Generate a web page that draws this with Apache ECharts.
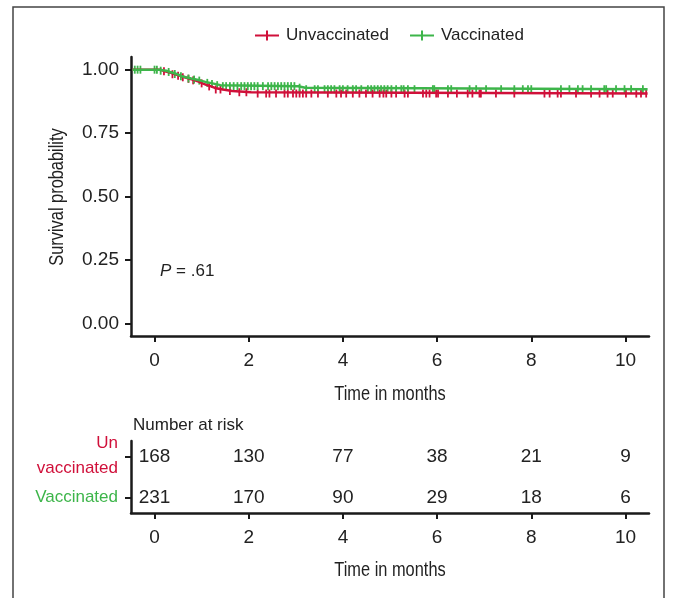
<!DOCTYPE html>
<html>
<head>
<meta charset="utf-8">
<script src="https://cdn.jsdelivr.net/npm/echarts@6/dist/echarts.min.js"></script>
<style>
html,body{margin:0;padding:0;background:#fff;}
#main{width:673px;height:598px;}
</style>
</head>
<body>
<div id="main"></div>
<script>
var xTicks = [0, 2, 4, 6, 8, 10];
var yTicks = [0, 0.25, 0.5, 0.75, 1];

// KM steps: event time and survival after it
var unvacTimes = [0.12, 0.22, 0.35, 0.44, 0.55, 0.64, 0.75, 0.86, 0.95, 1.02, 1.10, 1.20, 1.28, 1.45, 1.65, 2.05];
var unvacSurv  = [0.994, 0.988, 0.982, 0.976, 0.970, 0.964, 0.958, 0.952, 0.946, 0.940, 0.934, 0.928, 0.922, 0.916, 0.911, 0.906];
var vacTimes = [0.10, 0.25, 0.33, 0.40, 0.47, 0.53, 0.58, 0.66, 0.78, 0.88, 0.98, 1.08, 1.18, 1.28, 1.40, 3.05, 3.20];
var vacSurv  = [0.996, 0.991, 0.987, 0.983, 0.978, 0.974, 0.970, 0.965, 0.961, 0.957, 0.952, 0.948, 0.944, 0.939, 0.935, 0.929, 0.923];

// censored times
var unvacCensor = [0.2, 0.38, 0.5, 0.6, 0.72, 0.82, 1.0, 1.16, 1.3, 1.4, 1.6, 1.8, 1.95, 2.19, 2.37, 2.44, 2.58, 2.76, 2.83, 2.94, 3.01, 3.08, 3.15, 3.22, 3.33, 3.47, 3.68, 3.86, 3.96, 4.07, 4.21, 4.35, 4.49, 4.63, 4.78, 4.86, 4.92, 5.03, 5.13, 5.31, 5.38, 5.7, 5.77, 5.84, 5.98, 6.02, 6.23, 6.42, 6.65, 6.75, 6.9, 6.93, 7.25, 7.64, 8.28, 8.39, 8.56, 8.63, 8.95, 9.27, 9.45, 9.62, 9.73, 10.01, 10.23, 10.33, 10.44];
var vacCensor = [-0.42, -0.36, -0.3, 0.0, 0.05, 0.13, 0.3, 0.43, 0.56, 0.72, 0.84, 0.95, 1.12, 1.22, 1.33, 1.45, 1.52, 1.6, 1.68, 1.76, 1.84, 1.91, 1.98, 2.05, 2.12, 2.19, 2.3, 2.41, 2.48, 2.55, 2.62, 2.69, 2.76, 2.83, 2.9, 2.97, 3.08, 3.22, 3.4, 3.47, 3.61, 3.68, 3.75, 3.82, 3.93, 4.0, 4.1, 4.21, 4.28, 4.39, 4.53, 4.6, 4.67, 4.74, 4.81, 4.88, 4.95, 5.03, 5.13, 5.24, 5.29, 5.38, 5.52, 5.91, 5.94, 6.23, 6.3, 6.69, 6.83, 7.04, 7.36, 7.64, 7.82, 7.93, 8.0, 8.63, 8.81, 8.99, 9.09, 9.27, 9.55, 9.59, 9.8, 9.98, 10.12, 10.37];

var curveStart = -0.47;
var curveEnd = 10.47;

var riskTimes = [0, 2, 4, 6, 8, 10];
var riskUnvac = [168, 130, 77, 38, 21, 9];
var riskVac = [231, 170, 90, 29, 18, 6];

var RED = '#d0103a';
var GREEN = '#3db54a';
var INK = '#222';
var SANS = "'Liberation Sans', Arial, sans-serif";

function stepCurve(times, surv){
	var pts = [[curveStart, 1]];
	for(var i = 0; i < times.length; i++){
		pts.push([times[i], surv[i]]);
	}
	pts.push([curveEnd, surv[surv.length - 1]]);
	return pts;
}
function survAt(times, surv, t){
	var s = 1;
	for(var i = 0; i < times.length; i++){
		if(times[i] <= t) s = surv[i];
	}
	return s;
}
function censorPoints(censor, times, surv){
	return censor.map(function(t){ return [t, survAt(times, surv, t)]; });
}
function riskRow(counts, row){
	return riskTimes.map(function(t, i){ return [t, row, counts[i]]; });
}
function $extend(a, b){
	var o = {};
	for(var k in a) o[k] = a[k];
	for(var k2 in b) o[k2] = b[k2];
	return o;
}

var axisLine = {show: true, onZero: false, lineStyle: {color: '#1a1a1a', width: 2.5}};
var axisTick = {show: true, inside: false, length: 6, lineStyle: {color: '#1a1a1a', width: 2}};
var numLabel = {fontSize: 19, color: INK, fontFamily: SANS};

function xAxis(grid){
	return {
		type: 'value', gridIndex: grid, min: -0.5, max: 10.5,
		axisLine: axisLine,
		axisTick: $extend(axisTick, {customValues: xTicks}),
		axisLabel: $extend(numLabel, {customValues: xTicks, margin: 15}),
		splitLine: {show: false}
	};
}
// condensed axis titles (no narrow font installed, so squeeze the text)
function axisTitle(text, x, y, rot){
	return {
		type: 'text', x: x, y: y, rotation: rot || 0, scaleX: 0.78,
		style: {text: text, fill: INK, fontSize: 21, fontFamily: SANS, align: 'center', verticalAlign: 'middle'}
	};
}
function riskLabel(p){ return p.data[2]; }

var legendIcon = 'path://M0,4 L24,4 L24,6 L0,6 Z M11,0 L13,0 L13,10 L11,10 Z';

var chart = echarts.init(document.getElementById('main'), null, {renderer: 'canvas'});
chart.setOption({
	animation: false,
	backgroundColor: '#fff',
	legend: {
		left: 250, top: 22, itemWidth: 24, itemHeight: 10, itemGap: 21,
		textStyle: {fontSize: 17, color: INK, fontFamily: SANS, padding: [0, 0, 0, 2]},
		data: [
			{name: 'Unvaccinated', icon: legendIcon},
			{name: 'Vaccinated', icon: legendIcon}
		]
	},
	grid: [
		{left: 131, right: 24, top: 57, height: 279},
		{left: 131, right: 24, top: 441, height: 72}
	],
	xAxis: [xAxis(0), xAxis(1)],
	yAxis: [
		{
			type: 'value', gridIndex: 0, min: -0.05, max: 1.05,
			axisLine: axisLine,
			axisTick: $extend(axisTick, {customValues: yTicks}),
			axisLabel: $extend(numLabel, {customValues: yTicks, margin: 12, formatter: function(v){ return v.toFixed(2); }}),
			splitLine: {show: false}
		},
		{
			type: 'value', gridIndex: 1, min: 0.63, max: 2.37,
			axisLine: axisLine,
			axisTick: $extend(axisTick, {customValues: [1, 2]}),
			axisLabel: {
				customValues: [1, 2], margin: 13, align: 'right',
				formatter: function(v){ return v == 2 ? '{u|Un\nvaccinated}' : '{v|Vaccinated}'; },
				rich: {
					u: {fontSize: 17, color: RED, fontFamily: SANS, lineHeight: 25, align: 'right'},
					v: {fontSize: 17, color: GREEN, fontFamily: SANS, align: 'right'}
				}
			},
			splitLine: {show: false}
		}
	],
	series: [
		{
			name: 'Unvaccinated', type: 'line', step: 'end', xAxisIndex: 0, yAxisIndex: 0,
			data: stepCurve(unvacTimes, unvacSurv), showSymbol: false,
			itemStyle: {color: RED}, lineStyle: {color: RED, width: 2.5}
		},
		{
			name: 'Unvaccinated', type: 'scatter', xAxisIndex: 0, yAxisIndex: 0,
			data: censorPoints(unvacCensor, unvacTimes, unvacSurv),
			symbol: 'rect', symbolSize: [1.8, 8], itemStyle: {color: RED, opacity: 1}
		},
		{
			name: 'Vaccinated', type: 'line', step: 'end', xAxisIndex: 0, yAxisIndex: 0,
			data: stepCurve(vacTimes, vacSurv), showSymbol: false,
			itemStyle: {color: GREEN}, lineStyle: {color: GREEN, width: 2.5}
		},
		{
			name: 'Vaccinated', type: 'scatter', xAxisIndex: 0, yAxisIndex: 0,
			data: censorPoints(vacCensor, vacTimes, vacSurv),
			symbol: 'rect', symbolSize: [1.8, 8], itemStyle: {color: GREEN, opacity: 1}
		},
		{
			type: 'scatter', xAxisIndex: 1, yAxisIndex: 1, symbolSize: 0,
			data: riskRow(riskUnvac, 2), itemStyle: {opacity: 1},
			label: {show: true, position: 'inside', formatter: riskLabel, fontSize: 19, color: INK, fontFamily: SANS}
		},
		{
			type: 'scatter', xAxisIndex: 1, yAxisIndex: 1, symbolSize: 0,
			data: riskRow(riskVac, 1), itemStyle: {opacity: 1},
			label: {show: true, position: 'inside', formatter: riskLabel, fontSize: 19, color: INK, fontFamily: SANS}
		}
	],
	graphic: [
		{
			type: 'rect', shape: {x: 13, y: 7, width: 651, height: 600}, silent: true,
			style: {fill: 'none', stroke: '#444', lineWidth: 1.5}
		},
		{
			type: 'text', left: 160, top: 263,
			style: {
				text: '{i|P} = .61', fill: INK,
				rich: {i: {fontStyle: 'italic', fontSize: 17, fontFamily: SANS, fill: INK}},
				fontSize: 17, fontFamily: SANS
			}
		},
		{
			type: 'text', left: 133, top: 417,
			style: {text: 'Number at risk', fill: INK, fontSize: 17, fontFamily: SANS}
		},
		axisTitle('Time in months', 390, 394),
		axisTitle('Time in months', 390, 570),
		axisTitle('Survival probability', 57, 197, Math.PI / 2)
	]
});
</script>
</body>
</html>
